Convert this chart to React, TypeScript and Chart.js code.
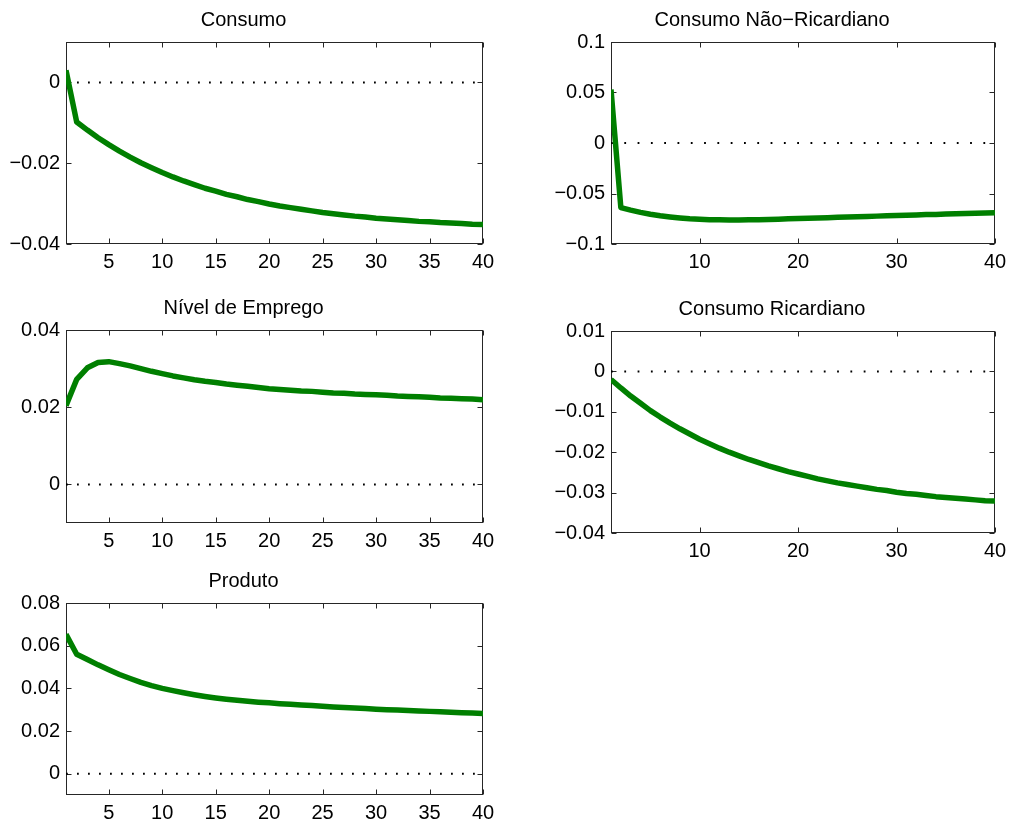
import React, { useEffect, useRef } from "react";
import { Chart, registerables } from "chart.js";

Chart.register(...registerables);

const periods = [1, 2, 3, 4, 5, 6, 7, 8, 9, 10, 11, 12, 13, 14, 15, 16, 17, 18, 19, 20, 21, 22, 23, 24, 25, 26, 27, 28, 29, 30, 31, 32, 33, 34, 35, 36, 37, 38, 39, 40];

const consumo = [0.0030, -0.0098, -0.0118, -0.0137, -0.0154, -0.0170, -0.0185, -0.0199, -0.0211, -0.0223, -0.0234, -0.0244, -0.0253, -0.0262, -0.0269, -0.0277, -0.0283, -0.0290, -0.0295, -0.0301, -0.0306, -0.0310, -0.0314, -0.0318, -0.0322, -0.0325, -0.0328, -0.0331, -0.0333, -0.0336, -0.0338, -0.0340, -0.0342, -0.0344, -0.0345, -0.0347, -0.0348, -0.0349, -0.0351, -0.0352];

const consumoNaoRicardiano = [0.0530, -0.0640, -0.0665, -0.0687, -0.0705, -0.0720, -0.0732, -0.0742, -0.0750, -0.0755, -0.0759, -0.0761, -0.0762, -0.0762, -0.0761, -0.0759, -0.0757, -0.0754, -0.0751, -0.0748, -0.0745, -0.0742, -0.0739, -0.0736, -0.0733, -0.0730, -0.0727, -0.0724, -0.0721, -0.0718, -0.0715, -0.0712, -0.0709, -0.0707, -0.0704, -0.0701, -0.0699, -0.0696, -0.0694, -0.0691];

const nivelEmprego = [0.0204, 0.0272, 0.0302, 0.0316, 0.0318, 0.0313, 0.0307, 0.0300, 0.0293, 0.0287, 0.0281, 0.0276, 0.0271, 0.0267, 0.0264, 0.0260, 0.0257, 0.0254, 0.0251, 0.0248, 0.0246, 0.0244, 0.0242, 0.0241, 0.0239, 0.0237, 0.0236, 0.0234, 0.0233, 0.0232, 0.0231, 0.0229, 0.0228, 0.0227, 0.0226, 0.0224, 0.0223, 0.0222, 0.0221, 0.0219];

const consumoRicardiano = [-0.0020, -0.0041, -0.0061, -0.0079, -0.0097, -0.0113, -0.0128, -0.0142, -0.0155, -0.0168, -0.0179, -0.0190, -0.0200, -0.0209, -0.0218, -0.0226, -0.0234, -0.0241, -0.0248, -0.0254, -0.0260, -0.0266, -0.0271, -0.0276, -0.0280, -0.0284, -0.0288, -0.0292, -0.0295, -0.0299, -0.0302, -0.0304, -0.0307, -0.0310, -0.0312, -0.0314, -0.0316, -0.0318, -0.0320, -0.0321];

const produto = [0.0653, 0.0560, 0.0535, 0.0510, 0.0487, 0.0465, 0.0446, 0.0428, 0.0413, 0.0400, 0.0389, 0.0379, 0.0370, 0.0362, 0.0355, 0.0349, 0.0344, 0.0339, 0.0335, 0.0332, 0.0328, 0.0325, 0.0322, 0.0319, 0.0316, 0.0313, 0.0310, 0.0308, 0.0305, 0.0302, 0.0300, 0.0298, 0.0296, 0.0294, 0.0292, 0.0290, 0.0288, 0.0286, 0.0284, 0.0282];

const xTicksLeft = [5, 10, 15, 20, 25, 30, 35, 40];
const xTicksRight = [10, 20, 30, 40];

const yTicksConsumo = [-0.04, -0.02, 0];
const yTicksNaoRicardiano = [-0.1, -0.05, 0, 0.05, 0.1];
const yTicksEmprego = [0, 0.02, 0.04];
const yTicksRicardiano = [-0.04, -0.03, -0.02, -0.01, 0, 0.01];
const yTicksProduto = [0, 0.02, 0.04, 0.06, 0.08];

const titles = ["Consumo", "Consumo Não\u2212Ricardiano", "Nível de Emprego", "Consumo Ricardiano", "Produto"];

const FONT = '"Liberation Sans", Arial, Helvetica, sans-serif';
const Y_AXIS_W = 62;
const TITLE_H = 40;
const X_AXIS_H = 36;
const RIGHT_PAD = 22;

type PanelCfg = {
  title: string;
  values: number[];
  yMin: number;
  yMax: number;
  yTicks: number[];
  xTicks: number[];
  box: { l: number; t: number; r: number; b: number };
  dot: number;
};

const panels: PanelCfg[] = [
  { title: titles[0], values: consumo, yMin: -0.04, yMax: 0.01, yTicks: yTicksConsumo, xTicks: xTicksLeft, box: { l: 66, t: 42, r: 483, b: 244 }, dot: 11 },
  { title: titles[1], values: consumoNaoRicardiano, yMin: -0.1, yMax: 0.1, yTicks: yTicksNaoRicardiano, xTicks: xTicksRight, box: { l: 611, t: 42, r: 995, b: 244 }, dot: 13.3 },
  { title: titles[2], values: nivelEmprego, yMin: -0.01, yMax: 0.04, yTicks: yTicksEmprego, xTicks: xTicksLeft, box: { l: 66, t: 330, r: 483, b: 523 }, dot: 11 },
  { title: titles[3], values: consumoRicardiano, yMin: -0.04, yMax: 0.01, yTicks: yTicksRicardiano, xTicks: xTicksRight, box: { l: 611, t: 331, r: 995, b: 533 }, dot: 13.3 },
  { title: titles[4], values: produto, yMin: -0.01, yMax: 0.08, yTicks: yTicksProduto, xTicks: xTicksLeft, box: { l: 66, t: 603, r: 483, b: 795 }, dot: 11 },
];

function fmt(v: number): string {
  const s = String(+v.toFixed(4));
  return s.replace("-", "\u2212");
}

const boxPlugin = {
  id: "matlabBox",
  beforeDatasetsDraw(chart: any) {
    const { ctx, chartArea: a, scales } = chart;
    const L = Math.round(a.left) + 0.5;
    const T = Math.round(a.top) + 0.5;
    const R = Math.round(a.right) - 0.5;
    const B = Math.round(a.bottom) - 0.5;
    ctx.save();
    ctx.strokeStyle = "#262626";
    ctx.lineWidth = 1;
    ctx.strokeRect(L, T, R - L, B - T);
    const len = 5;
    ctx.beginPath();
    scales.x.ticks.forEach((t: any) => {
      const px = Math.round(scales.x.getPixelForValue(t.value)) + 0.5;
      ctx.moveTo(px, B);
      ctx.lineTo(px, B - len);
      ctx.moveTo(px, T);
      ctx.lineTo(px, T + len);
    });
    scales.y.ticks.forEach((t: any) => {
      const py = Math.round(scales.y.getPixelForValue(t.value)) + 0.5;
      ctx.moveTo(L, py);
      ctx.lineTo(L + len, py);
      ctx.moveTo(R, py);
      ctx.lineTo(R - len, py);
    });
    ctx.stroke();
    ctx.restore();
  },
};

function Panel({ cfg }: { cfg: PanelCfg }) {
  const ref = useRef<HTMLCanvasElement>(null);
  const w = cfg.box.r - cfg.box.l + Y_AXIS_W + RIGHT_PAD;
  const h = cfg.box.b - cfg.box.t + TITLE_H + X_AXIS_H;

  useEffect(() => {
    const chart = new Chart(ref.current as HTMLCanvasElement, {
      type: "line",
      data: {
        datasets: [
          {
            data: periods.map((x, i) => ({ x, y: cfg.values[i] })),
            borderColor: "#007f00",
            borderWidth: 5.5,
            pointRadius: 0,
            tension: 0,
            borderJoinStyle: "round",
          },
          {
            data: periods.map((x) => ({ x, y: 0 })),
            borderColor: "#000000",
            borderWidth: 2,
            borderDash: [1.8, cfg.dot - 1.8],
            pointRadius: 0,
            tension: 0,
          },
        ],
      },
      options: {
        animation: false,
        responsive: false,
        devicePixelRatio: 1,
        layout: { padding: { left: 0, right: RIGHT_PAD, top: 0, bottom: 0 } },
        plugins: {
          legend: { display: false },
          tooltip: { enabled: false },
          title: {
            display: true,
            text: cfg.title,
            color: "#000",
            font: { family: FONT, size: 20, weight: "normal", lineHeight: 1.2 },
            padding: { top: 6, bottom: 10 },
          },
        },
        scales: {
          x: {
            type: "linear",
            min: 1,
            max: 40,
            afterBuildTicks: (s: any) => {
              s.ticks = cfg.xTicks.map((v) => ({ value: v }));
            },
            afterFit: (s: any) => {
              s.height = X_AXIS_H;
            },
            grid: { display: false, drawTicks: false },
            border: { display: false },
            ticks: {
              color: "#000",
              font: { family: FONT, size: 20 },
              padding: 6,
              maxRotation: 0,
              autoSkip: false,
              callback: (v: any) => fmt(Number(v)),
            },
          },
          y: {
            type: "linear",
            min: cfg.yMin,
            max: cfg.yMax,
            afterBuildTicks: (s: any) => {
              s.ticks = cfg.yTicks.map((v) => ({ value: v }));
            },
            afterFit: (s: any) => {
              s.width = Y_AXIS_W;
            },
            grid: { display: false, drawTicks: false },
            border: { display: false },
            ticks: {
              color: "#000",
              font: { family: FONT, size: 20 },
              padding: 6,
              autoSkip: false,
              callback: (v: any) => fmt(Number(v)),
            },
          },
        },
      },
      plugins: [boxPlugin],
    } as any);
    return () => chart.destroy();
  }, [cfg]);

  return (
    <canvas
      ref={ref}
      width={w}
      height={h}
      style={{
        position: "absolute",
        left: cfg.box.l - Y_AXIS_W,
        top: cfg.box.t - TITLE_H,
        width: w,
        height: h,
      }}
    />
  );
}

export default function App() {
  return (
    <div style={{ position: "absolute", left: 0, top: 0, width: 1011, height: 823, background: "#fff" }}>
      {panels.map((p, i) => (
        <Panel key={i} cfg={p} />
      ))}
    </div>
  );
}
